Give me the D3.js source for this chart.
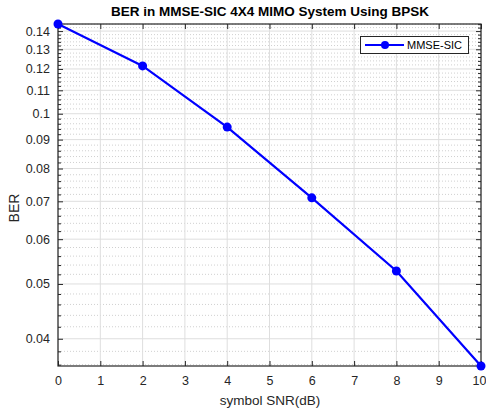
<!DOCTYPE html>
<html><head><meta charset="utf-8">
<script src="https://cdn.jsdelivr.net/npm/d3@7"></script>
<style>body{margin:0;background:#fff;} text{font-family:Arial,"Liberation Sans",Helvetica,sans-serif;}</style>
</head><body>
<svg id="c" width="486" height="412"></svg>
<script>
const snr = [0, 2, 4, 6, 8, 10];
const ber = [0.1441, 0.1215, 0.0947, 0.0710, 0.0527, 0.0358];
const xTicks = [0,1,2,3,4,5,6,7,8,9,10];
const yTicks = [0.04,0.05,0.06,0.07,0.08,0.09,0.1,0.11,0.12,0.13,0.14];
const yTickLabels = ["0.04","0.05","0.06","0.07","0.08","0.09","0.1","0.11","0.12","0.13","0.14"];
const yMinor = [0.036,0.038,0.042,0.044,0.046,0.048,0.052,0.054,0.056,0.058,0.062,0.064,0.066,0.068,0.072,0.074,0.076,0.078,0.082,0.084,0.086,0.088,0.092,0.094,0.096,0.098,0.102,0.104,0.106,0.108,0.112,0.114,0.116,0.118,0.122,0.124,0.126,0.128,0.132,0.134,0.136,0.138,0.142,0.144];
const titleText = "BER in MMSE-SIC 4X4 MIMO System Using BPSK";
const xLabel = "symbol SNR(dB)";
const yLabel = "BER";
const legendLabel = "MMSE-SIC";

const svg = d3.select("#c");
const L=58, R=481, T=24, B=366;
const x = d3.scaleLinear().domain([0,10]).range([L,R]);
const y = d3.scaleLog().domain([d3.min(ber), d3.max(ber)]).range([B,T]);
const minorIn = yMinor.filter(v => v>=y.domain()[0] && v<=y.domain()[1]);

svg.append("g").selectAll("line").data(minorIn).join("line")
  .attr("x1",L).attr("x2",R).attr("y1",d=>y(d)).attr("y2",d=>y(d))
  .attr("stroke","#d0d0d0").attr("stroke-width",1).attr("stroke-dasharray","1,2");
svg.append("g").selectAll("line").data(yTicks).join("line")
  .attr("x1",L).attr("x2",R).attr("y1",d=>y(d)).attr("y2",d=>y(d))
  .attr("stroke","#dedede").attr("stroke-width",1);
svg.append("g").selectAll("line").data(xTicks).join("line")
  .attr("x1",d=>x(d)).attr("x2",d=>x(d)).attr("y1",T).attr("y2",B)
  .attr("stroke","#dedede").attr("stroke-width",1);

const gx = svg.append("g").attr("transform",`translate(0,${B})`)
  .call(d3.axisBottom(x).tickValues(xTicks).tickSize(-5).tickPadding(10).tickFormat(d3.format("d")));
const gxt = svg.append("g").attr("transform",`translate(0,${T})`)
  .call(d3.axisTop(x).tickValues(xTicks).tickSize(-5).tickFormat(""));
const gy = svg.append("g").attr("transform",`translate(${L},0)`)
  .call(d3.axisLeft(y).tickValues(yTicks).tickSize(-5).tickPadding(8).tickFormat((d,i)=>yTickLabels[i]));
const gyr = svg.append("g").attr("transform",`translate(${R},0)`)
  .call(d3.axisRight(y).tickValues(yTicks).tickSize(-5).tickFormat(""));
const gym = svg.append("g").attr("transform",`translate(${L},0)`)
  .call(d3.axisLeft(y).tickValues(minorIn).tickSize(-3).tickFormat(""));
const gymr = svg.append("g").attr("transform",`translate(${R},0)`)
  .call(d3.axisRight(y).tickValues(minorIn).tickSize(-3).tickFormat(""));
[gx,gxt,gy,gyr,gym,gymr].forEach(g=>{
  g.selectAll(".domain").remove();
  g.selectAll("line").attr("stroke","#262626");
  g.selectAll("text").attr("fill","#262626").attr("font-size",12.5).attr("font-family","Arial, Liberation Sans, sans-serif");
});
// keep the last x label inside the window
gx.selectAll(".tick").filter(d=>d===10).select("text").attr("text-anchor","end").attr("x",5);
svg.append("rect").attr("x",L).attr("y",T).attr("width",R-L).attr("height",B-T)
  .attr("fill","none").attr("stroke","#262626").attr("stroke-width",1.2);

svg.append("path").datum(snr.map((s,i)=>[s,ber[i]]))
  .attr("d", d3.line().x(d=>x(d[0])).y(d=>y(d[1])))
  .attr("fill","none").attr("stroke","#0000ff").attr("stroke-width",2.2);
svg.append("g").selectAll("circle").data(snr.map((s,i)=>[s,ber[i]])).join("circle")
  .attr("cx",d=>x(d[0])).attr("cy",d=>y(d[1])).attr("r",4.5).attr("fill","#0000ff");

svg.append("text").attr("x",270).attr("y",16).attr("text-anchor","middle")
  .attr("font-size",13.5).attr("font-weight","bold").attr("fill","#000").text(titleText);
svg.append("text").attr("x",270).attr("y",405).attr("text-anchor","middle")
  .attr("font-size",13.5).attr("fill","#262626").text(xLabel);
svg.append("text").attr("transform","translate(19,208) rotate(-90)").attr("text-anchor","middle")
  .attr("font-size",14).attr("fill","#262626").text(yLabel);

const lg = svg.append("g");
lg.append("rect").attr("x",360.5).attr("y",36.5).attr("width",108).attr("height",17)
  .attr("fill","#fff").attr("stroke","#262626").attr("stroke-width",1);
lg.append("line").attr("x1",365).attr("x2",404).attr("y1",45).attr("y2",45)
  .attr("stroke","#0000ff").attr("stroke-width",2.2);
lg.append("circle").attr("cx",385).attr("cy",45).attr("r",4).attr("fill","#0000ff");
lg.append("text").attr("x",407).attr("y",49).attr("font-size",11).attr("fill","#000").text(legendLabel);
</script>
</body></html>
